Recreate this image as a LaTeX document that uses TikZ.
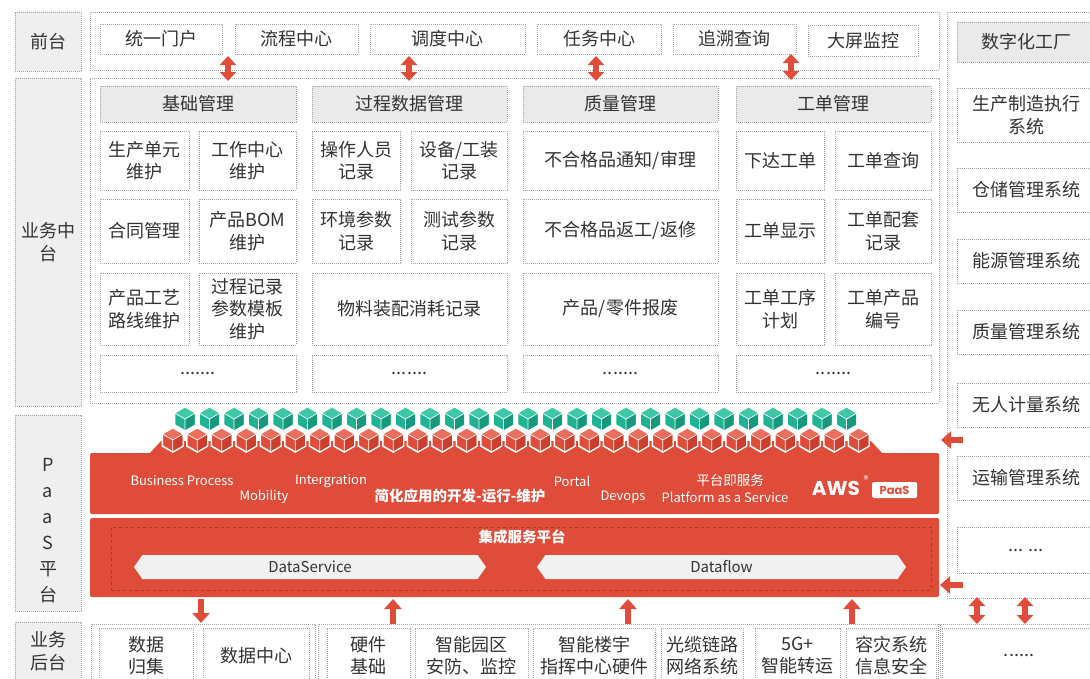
\documentclass[tikz,border=0pt]{standalone}
\usepackage{fontspec}
\setmainfont{Noto Sans CJK SC}
\newfontfamily\logofont{Poppins}
\usetikzlibrary{arrows.meta,shapes.symbols}

\definecolor{paasred}{HTML}{E04C3A}
\definecolor{redtop}{HTML}{EC6E5C}
\definecolor{reddark}{HTML}{CC3F2E}
\definecolor{lineRed}{HTML}{A8382A}
\definecolor{tealbase}{HTML}{1DB393}
\definecolor{tealtop}{HTML}{3FC8A8}
\definecolor{tealdark}{HTML}{17997D}
\definecolor{dotgray}{HTML}{A6A6A6}
\definecolor{lblgray}{HTML}{EFEFEF}
\definecolor{headgray}{HTML}{EAEAEA}
\definecolor{txtgray}{HTML}{333333}
\definecolor{barwhite}{HTML}{F1F1F1}

\tikzset{
  dotline/.style={draw=dotgray, line width=0.8pt, dash pattern=on 0.9pt off 1.1pt},
  grp/.style={dotline, inner sep=0pt, outer sep=0pt},
  lbl/.style={dotline, fill=lblgray, text=txtgray, align=center, inner sep=0pt,
    font=\fontsize{18}{23}\selectfont},
  cell/.style={dotline, text=txtgray, align=center, inner sep=1pt, outer sep=0pt,
    font=\fontsize{18}{22.5}\selectfont},
  head/.style={cell, fill=headgray},
  sz/.style 2 args={minimum width=#1, minimum height=#2},
  band/.style={fill=paasred, rounded corners=1.5pt},
  bandtxt/.style={text=white, inner sep=0pt, font=\fontsize{13}{13}\selectfont},
  bar/.style={shape=signal, signal to=west and east, signal pointer angle=110,
    fill=barwhite, text=txtgray, inner sep=0pt, font=\fontsize{15}{15}\selectfont},
  biarrow/.style={{Triangle[width=16pt,length=9pt]}-{Triangle[width=16pt,length=9pt]},
    line width=5.5pt, draw=paasred},
  onearrow/.style={-{Triangle[width=17pt,length=10pt]}, line width=6pt, draw=paasred},
  pics/hexcube/.style n args={3}{code={
    \filldraw[fill=#1, draw=white, line width=1.6pt]
      (0,-12) -- (10.4,-6) -- (10.4,6) -- (0,12) -- (-10.4,6) -- (-10.4,-6) -- cycle;
    \fill[#2] (0,-11.2) -- (9.6,-5.6) -- (0,0) -- (-9.6,-5.6) -- cycle;
    \fill[#3] (9.6,-5.6) -- (9.6,5.6) -- (0,11.2) -- (0,0) -- cycle;
    \draw[white, line width=0.7pt] (-10.4,-6) -- (0,0) -- (10.4,-6) (0,0) -- (0,12);
  }}
}

\begin{document}
\begin{tikzpicture}[x=1pt, y=-1pt]
\useasboundingbox (0,0) rectangle (1090,678);
\clip (0,0) rectangle (1090,678);

% layer names on the left
\node (lbFront) [lbl, sz={66pt}{59pt}] at (48,41.5) {前台};
\node (lbMid) [lbl, sz={66pt}{328pt}] at (48,242) {业务中\\台};
\node (lbPaas) [lbl, sz={66pt}{196pt}] at (48,513) {};
\node (lbPaasTxt) [align=center, text=txtgray, inner sep=0pt,
  font=\fontsize{18}{26}\selectfont] at (48,531) {P\\a\\a\\S\\平\\台};
\node (lbBack) [lbl, sz={66pt}{58pt}] at (48,651) {业务\\后台};

% front layer
\node (grpFront) [grp, sz={849pt}{58pt}] at (514.5,41) {};
\node (fUnify) [cell, sz={122pt}{30pt}] at (161,39) {统一门户};
\node (fFlow) [cell, sz={123pt}{30pt}] at (296.5,39) {流程中心};
\node (fSched) [cell, sz={155pt}{30pt}] at (447.5,39) {调度中心};
\node (fTask) [cell, sz={124pt}{30pt}] at (599,39) {任务中心};
\node (fTrace) [cell, sz={123pt}{30pt}] at (734.5,39) {追溯查询};
\node (fScreen) [cell, sz={110pt}{31pt}] at (863,40.5) {大屏监控};

% middle layer
\node (grpMid) [grp, sz={849pt}{325pt}] at (514.5,240.5) {};
\node (hBase) [head, sz={196pt}{36pt}] at (198,104) {基础管理};
\node (hProc) [head, sz={195pt}{36pt}] at (409.5,104) {过程数据管理};
\node (hQual) [head, sz={195pt}{36pt}] at (620.5,104) {质量管理};
\node (hOrder) [head, sz={195pt}{36pt}] at (833.5,104) {工单管理};

\node (unitMnt) [cell, sz={89pt}{59pt}] at (144.5,160.5) {生产单元\\维护};
\node (wcMnt) [cell, sz={97pt}{59pt}] at (247.5,160.5) {工作中心\\维护};
\node (opRec) [cell, sz={88pt}{59pt}] at (356,160.5) {操作人员\\记录};
\node (toolRec) [cell, sz={96pt}{59pt}] at (459,160.5) {设备/工装\\记录};
\node (ncNotice) [cell, sz={195pt}{59pt}] at (620.5,160.5) {不合格品通知/审理};
\node (woIssue) [cell, sz={88pt}{59pt}] at (780,160.5) {下达工单};
\node (woQuery) [cell, sz={96pt}{59pt}] at (883,160.5) {工单查询};

\node (contract) [cell, sz={89pt}{64pt}] at (144.5,231) {合同管理};
\node (bomMnt) [cell, sz={97pt}{64pt}] at (247.5,231) {产品BOM\\维护};
\node (envRec) [cell, sz={88pt}{64pt}] at (356,231) {环境参数\\记录};
\node (testRec) [cell, sz={96pt}{64pt}] at (459,231) {测试参数\\记录};
\node (ncRework) [cell, sz={195pt}{64pt}] at (620.5,231) {不合格品返工/返修};
\node (woShow) [cell, sz={88pt}{64pt}] at (780,231) {工单显示};
\node (woKit) [cell, sz={96pt}{64pt}] at (883,231) {工单配套\\记录};

\node (routeMnt) [cell, sz={89pt}{72pt}] at (144.5,309) {产品工艺\\路线维护};
\node (tplMnt) [cell, sz={97pt}{72pt}] at (247.5,309) {过程记录\\参数模板\\维护};
\node (matRec) [cell, sz={195pt}{72pt}] at (409.5,309) {物料装配消耗记录};
\node (scrap) [cell, sz={195pt}{72pt}] at (620.5,309) {产品/零件报废};
\node (woPlan) [cell, sz={88pt}{72pt}] at (780,309) {工单工序\\计划};
\node (woSn) [cell, sz={96pt}{72pt}] at (883,309) {工单产品\\编号};

\node (moreBase) [cell, sz={196pt}{37pt}] at (198,373.5) {.......};
\node (moreProc) [cell, sz={195pt}{37pt}] at (409.5,373.5) {.......};
\node (moreQual) [cell, sz={195pt}{37pt}] at (620.5,373.5) {.......};
\node (moreOrder) [cell, sz={195pt}{37pt}] at (833.5,373.5) {.......};

% digital factory column
\node (grpRight) [grp, sz={153pt}{586pt}] at (1023.5,305) {};
\node (rFactory) [head, sz={138pt}{40pt}] at (1026,42) {数字化工厂};
\node (rMes) [cell, sz={138pt}{54pt}] at (1026,115) {生产制造执行\\系统};
\node (rWms) [cell, sz={138pt}{44pt}] at (1026,190) {仓储管理系统};
\node (rEms) [cell, sz={138pt}{44pt}] at (1026,261) {能源管理系统};
\node (rQms) [cell, sz={138pt}{44pt}] at (1026,332) {质量管理系统};
\node (rMeter) [cell, sz={138pt}{44pt}] at (1026,405) {无人计量系统};
\node (rTms) [cell, sz={138pt}{44pt}] at (1026,478) {运输管理系统};
\node (rMore) [cell, sz={138pt}{46pt}] at (1026,550) {... ...};

% PaaS platform
\fill[paasred] (150,453) -- (161,441) -- (871,441) -- (882,453) -- cycle;
\node (band1) [band, sz={849pt}{61pt}, inner sep=0pt] at (514.5,483.5) {};
\node (band2) [band, sz={849pt}{79pt}, inner sep=0pt] at (514.5,557.5) {};
\foreach \i in {0,...,27}
  \pic at ({185+24.5*\i},419) {hexcube={tealbase}{tealtop}{tealdark}};
\foreach \i in {0,...,28}
  \pic at ({172.75+24.5*\i},440) {hexcube={paasred}{redtop}{reddark}};

\node (tBpm) [bandtxt] at (182,481) {Business Process};
\node (tMob) [bandtxt] at (264,497) {Mobility};
\node (tInt) [bandtxt] at (331,481) {Intergration};
\node (tSlogan) [bandtxt, font=\bfseries\fontsize{14.5}{14.5}\selectfont] at (460,496) {简化应用的开发-运行-维护};
\node (tPortal) [bandtxt] at (572,481) {Portal};
\node (tDevops) [bandtxt] at (623,497) {Devops};
\node (tPaasCn) [bandtxt, font=\fontsize{13.5}{13.5}\selectfont] at (730,480) {平台即服务};
\node (tPaasEn) [bandtxt] at (725,497) {Platform as a Service};
\node (aws) [text=white, inner sep=0pt, font=\logofont\bfseries\fontsize{20}{20}\selectfont] at (836,488) {AWS};
\node (awsReg) [text=white, inner sep=0pt, font=\fontsize{10}{10}\selectfont] at (866,480) {®};
\node (paasTag) [fill=white, rounded corners=1.5pt, text=paasred, inner sep=0pt, sz={45pt}{16pt},
  font=\logofont\bfseries\fontsize{11.5}{11.5}\selectfont] at (894.5,490) {PaaS};

\node (esb) [draw=lineRed, dashed, line width=0.7pt, sz={820pt}{63pt}, inner sep=0pt] at (521,558.5) {};
\node (esbName) [bandtxt, font=\bfseries\fontsize{14.5}{14.5}\selectfont] at (522,537) {集成服务平台};
\node (svc) [bar, sz={352pt}{24pt}] at (310,567) {DataService};
\node (flow) [bar, sz={369pt}{24pt}] at (721.5,567) {Dataflow};

% back layer
\node (grpBack1) [grp, sz={224pt}{66pt}] at (203,657) {};
\node (bCollect) [cell, sz={94pt}{55pt}] at (146,655.5) {数据\\归集};
\node (bCenter) [cell, sz={106pt}{55pt}] at (256,655.5) {数据中心};
\node (grpBack2) [grp, sz={622pt}{66pt}] at (629,657) {};
\node (bHw) [cell, sz={83pt}{55pt}] at (368.5,655.5) {硬件\\基础};
\node (bPark) [cell, sz={113pt}{55pt}] at (471.5,655.5) {智能园区\\安防、监控};
\node (bBuild) [cell, sz={122pt}{55pt}] at (594,655.5) {智能楼宇\\指挥中心硬件};
\node (bFiber) [cell, sz={82pt}{55pt}] at (702,655.5) {光缆链路\\网络系统};
\node (b5g) [cell, sz={85pt}{55pt}] at (797.5,655.5) {5G+\\智能转运};
\node (bDr) [cell, sz={90pt}{55pt}] at (891,655.5) {容灾系统\\信息安全};
\node (grpBack3) [grp, sz={162pt}{66pt}] at (1019,657) {};
\node (bMore) [cell, sz={154pt}{55pt}] at (1019,655.5) {......};

% arrows between layers
\coordinate (fa1) at (228,56); \coordinate (fb1) at (228,81);
\coordinate (fa2) at (409,56); \coordinate (fb2) at (409,81);
\coordinate (fa3) at (596,56); \coordinate (fb3) at (596,81);
\coordinate (fa4) at (791,54); \coordinate (fb4) at (791,80);
\foreach \k in {1,...,4}
  \draw[biarrow] (fa\k) -- (fb\k);

\coordinate (ra1) at (963,440); \coordinate (rb1) at (941,440);
\coordinate (ra2) at (963,585); \coordinate (rb2) at (940,585);
\draw[onearrow] (ra1) -- (rb1);
\draw[onearrow] (ra2) -- (rb2);

\coordinate (dn1) at (201,599); \coordinate (dn2) at (201,623);
\draw[onearrow, line width=5.5pt] (dn1) -- (dn2);
\foreach \x [count=\k] in {393,628,852} {
  \coordinate (upA\k) at (\x,624); \coordinate (upB\k) at (\x,599);
  \draw[onearrow, line width=5.5pt] (upA\k) -- (upB\k);
}
\foreach \x [count=\k] in {977,1025} {
  \coordinate (bbA\k) at (\x,597); \coordinate (bbB\k) at (\x,624);
  \draw[biarrow] (bbA\k) -- (bbB\k);
}
\end{tikzpicture}
\end{document}
